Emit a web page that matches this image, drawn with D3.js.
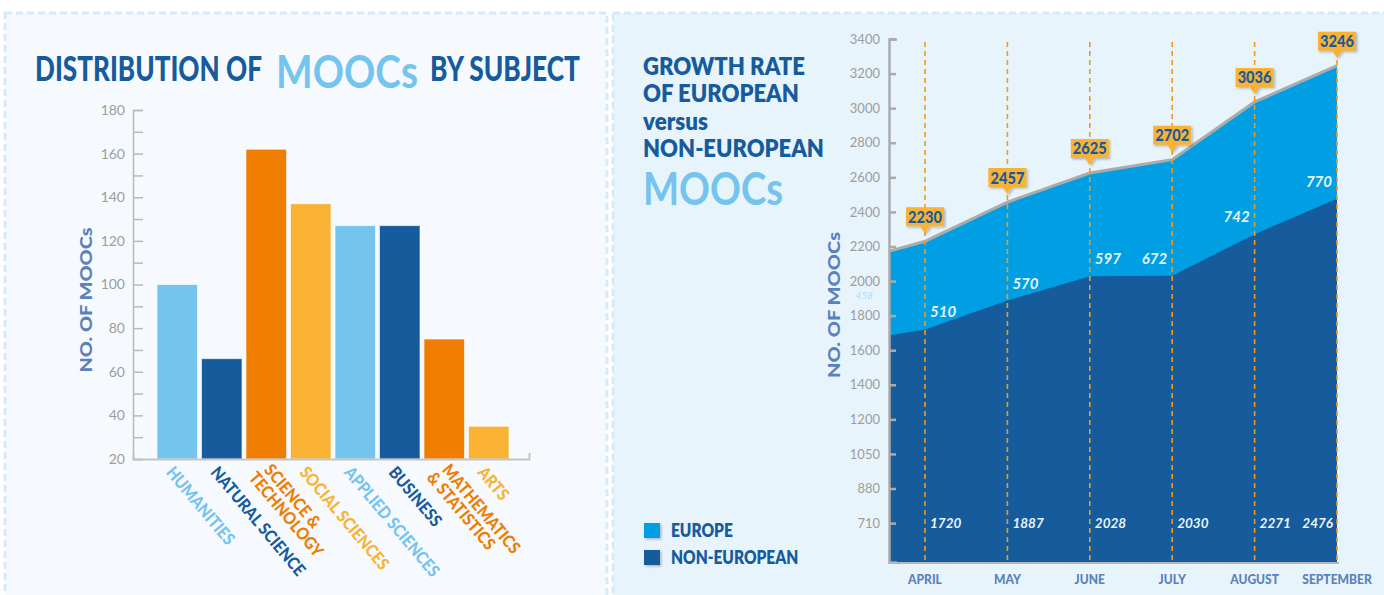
<!DOCTYPE html>
<html>
<head>
<meta charset="utf-8">
<script src="https://cdn.jsdelivr.net/npm/d3@7"></script>
<style>
  body { margin: 0; background: #fff; }
  text { font-family: Lato, "Open Sans", sans-serif; }
</style>
</head>
<body>
<svg id="chart" width="1384" height="595"></svg>
<script>
// ---- left chart: distribution by subject
const subjects = ["HUMANITIES", "NATURAL SCIENCE", "SCIENCE &\nTECHNOLOGY", "SOCIAL SCIENCES",
  "APPLIED SCIENCES", "BUSINESS", "MATHEMATICS\n& STATISTICS", "ARTS"];
const subjectCounts = [100, 66, 162, 137, 127, 127, 75, 35];

// ---- right chart: growth rate (first point is the clipped lead-in before April)
const months = ["MARCH", "APRIL", "MAY", "JUNE", "JULY", "AUGUST", "SEPTEMBER"];
const nonEuropean = [1640, 1720, 1887, 2028, 2030, 2271, 2476];
const european = [458, 510, 570, 597, 672, 742, 770];
const totals = [2098, 2230, 2457, 2625, 2702, 3036, 3246];
const growthTickValues = [3400, 3200, 3000, 2800, 2600, 2400, 2200, 2000, 1800, 1600, 1400, 1200, 1000, 800, 600];
const growthTickLabels = ["3400", "3200", "3000", "2800", "2600", "2400", "2200", "2000", "1800", "1600", "1400", "1200", "1050", "880", "710"];

const darkBlue = "#165b9c", lightBlue = "#74c4ee", orange = "#ee7d00", amber = "#f9b234";
const brightBlue = "#009fe3", axisBlue = "#5b81b9", tickGrey = "#9d9d9d";
const subjectColors = [lightBlue, darkBlue, orange, amber, lightBlue, darkBlue, orange, amber];

const svg = d3.select("#chart");
const defs = svg.append("defs");
defs.append("filter").attr("id", "shadow").attr("x", "-30%").attr("y", "-30%").attr("width", "160%").attr("height", "160%")
  .append("feDropShadow").attr("dx", 1.5).attr("dy", 1.5).attr("stdDeviation", 1.2).attr("flood-color", "#000").attr("flood-opacity", 0.25);
defs.append("clipPath").attr("id", "plotclip")
  .append("rect").attr("x", 890).attr("y", 0).attr("width", 449).attr("height", 562);

function condense(sel, k) {
  sel.each(function() {
    const w = this.getComputedTextLength();
    d3.select(this).attr("textLength", w * k).attr("lengthAdjust", "spacingAndGlyphs");
  });
}

// squeeze a text horizontally so it spans exactly `w` pixels
function fitWidth(sel, x0, y0, w) {
  sel.attr("x", 0).attr("y", 0);
  const nat = sel.node().getComputedTextLength();
  sel.attr("transform", `translate(${x0},${y0}) scale(${w / nat},1)`);
}

// panels
svg.append("rect").attr("x", 5).attr("y", 13).attr("width", 602).attr("height", 600)
  .attr("fill", "#f6fafe").attr("stroke", "#d5ebfa").attr("stroke-width", 3).attr("stroke-dasharray", "7,4");
svg.append("rect").attr("x", 613).attr("y", 13).attr("width", 790).attr("height", 600)
  .attr("fill", "#e7f4fc").attr("stroke", "#d5ebfa").attr("stroke-width", 3).attr("stroke-dasharray", "7,4");

// ================= LEFT CHART =================
const title = svg.append("g");
fitWidth(title.append("text").attr("font-size", 34).attr("font-weight", 900).attr("fill", darkBlue)
  .text("DISTRIBUTION OF"), 35, 81, 227);
fitWidth(title.append("text").attr("font-size", 45).attr("font-weight", 700).attr("fill", lightBlue)
  .text("MOOCs"), 276, 88, 142);
fitWidth(title.append("text").attr("font-size", 34).attr("font-weight", 900).attr("fill", darkBlue)
  .text("BY SUBJECT"), 430, 81, 150);

const x = d3.scaleBand().domain(d3.range(subjects.length)).range([157, 509]).paddingInner(0.09);
const y = d3.scaleLinear().domain([20, 180]).range([459, 110]);

svg.append("g").selectAll("rect").data(subjectCounts).join("rect")
  .attr("x", (d, i) => x(i)).attr("width", x.bandwidth())
  .attr("y", d => y(d)).attr("height", d => y(20) - y(d))
  .attr("fill", (d, i) => subjectColors[i])
  .attr("stroke", "#ffffff").attr("stroke-opacity", 0.6).attr("stroke-width", 1);

const yAxisL = svg.append("g").attr("transform", "translate(133,0)")
  .call(d3.axisLeft(y).tickValues(d3.range(20, 181, 10)).tickSize(-10).tickSizeOuter(-10).tickPadding(8)
    .tickFormat(d => d % 20 === 0 ? d : ""));
yAxisL.selectAll("path, line").attr("stroke", "#b9b9b9").attr("stroke-width", 1.5);
yAxisL.selectAll("text").attr("fill", tickGrey).attr("font-size", 14).attr("font-family", "Lato");

const xAxisL = svg.append("g").attr("transform", "translate(0,459)")
  .call(d3.axisBottom(d3.scaleLinear().range([133, 529])).ticks(0).tickSizeOuter(-6));
xAxisL.select("path").attr("stroke", "#c4c4c4").attr("stroke-width", 2);

svg.append("text").attr("transform", "translate(92,300) rotate(-90)")
  .attr("text-anchor", "middle").attr("font-size", 17).attr("font-weight", 900).attr("fill", axisBlue)
  .attr("textLength", 145).attr("lengthAdjust", "spacingAndGlyphs").text("NO. OF MOOCs");

const xLabels = svg.append("g").selectAll("text").data(subjects).join("text")
  .attr("transform", (d, i) => `translate(${x(i) + x.bandwidth() / 2 - 3},465) rotate(50)`)
  .attr("font-size", 17).attr("font-weight", 900).attr("fill", (d, i) => subjectColors[i]);
xLabels.each(function(d) {
  const lines = d.split("\n");
  const t = d3.select(this);
  lines.forEach((line, j) => {
    t.append("tspan").attr("x", j === 0 ? 4 * (lines.length - 1) : 0)
      .attr("dy", j === 0 ? (0.7 - 0.5 * (lines.length - 1)) + "em" : "0.98em").text(line);
  });
});
condense(xLabels.selectAll("tspan"), 0.9);

// ================= RIGHT CHART =================
const rTitle = [
  { t: "GROWTH RATE", y: 75, w: 162 },
  { t: "OF EUROPEAN", y: 102, w: 156 },
  { t: "versus", y: 130, w: 65 },
  { t: "NON-EUROPEAN", y: 157, w: 181 }
];
svg.append("g").selectAll("text").data(rTitle).join("text")
  .attr("font-size", 25).attr("font-weight", 800).attr("fill", darkBlue).text(d => d.t)
  .each(function(d) { fitWidth(d3.select(this), 643, d.y, d.w); });
fitWidth(svg.append("text").attr("font-size", 45).attr("font-weight", 700).attr("fill", lightBlue)
  .text("MOOCs"), 643, 205, 140);

const xR = d3.scaleLinear().domain([1, 6]).range([925, 1337]);
const yR = d3.scaleLinear().domain([375, 3400]).range([562, 39]);

const plot = svg.append("g").attr("clip-path", "url(#plotclip)");
plot.append("path").datum(totals)
  .attr("fill", brightBlue)
  .attr("d", d3.area().x((d, i) => xR(i)).y0(yR(375)).y1(d => yR(d)));
plot.append("path").datum(nonEuropean)
  .attr("fill", darkBlue)
  .attr("d", d3.area().x((d, i) => xR(i)).y0(yR(375)).y1(d => yR(d)));
plot.append("path").datum(totals)
  .attr("fill", "none").attr("stroke", "#ababab").attr("stroke-width", 3)
  .attr("d", d3.line().x((d, i) => xR(i)).y(d => yR(d)));

// dashed month guides
svg.append("g").selectAll("line").data(months.slice(1)).join("line")
  .attr("x1", (d, i) => xR(i + 1)).attr("x2", (d, i) => xR(i + 1))
  .attr("y1", 42).attr("y2", 562)
  .attr("stroke", "#f39a1e").attr("stroke-width", 1.6).attr("stroke-dasharray", "5,4");

const yAxisR = svg.append("g").attr("transform", "translate(889,0)")
  .call(d3.axisLeft(yR).tickValues(growthTickValues).tickSize(-7).tickSizeOuter(-8).tickPadding(9)
    .tickFormat((d, i) => growthTickLabels[i]));
yAxisR.selectAll("path, line").attr("stroke", "#ababab").attr("stroke-width", 2.5);
yAxisR.selectAll("text").attr("fill", tickGrey).attr("font-size", 13).attr("font-family", "Lato");

svg.append("line").attr("x1", 888).attr("x2", 1339).attr("y1", 563).attr("y2", 563)
  .attr("stroke", "#b5b5b5").attr("stroke-width", 2);

svg.append("text").attr("transform", "translate(840,305) rotate(-90)")
  .attr("text-anchor", "middle").attr("font-size", 17).attr("font-weight", 900).attr("fill", axisBlue)
  .attr("textLength", 146).attr("lengthAdjust", "spacingAndGlyphs").text("NO. OF MOOCs");

// month labels
const mLabels = svg.append("g").selectAll("text").data(months.slice(1)).join("text")
  .attr("x", (d, i) => xR(i + 1)).attr("y", 584).attr("text-anchor", "middle")
  .attr("font-size", 14).attr("font-weight", 900).attr("fill", axisBlue).text(d => d);
condense(mLabels, 0.86);

// lead-in (march) europe label, faded behind the axis
svg.append("text").attr("x", xR(0) + 13).attr("y", 299).attr("font-size", 10).attr("font-style", "italic")
  .attr("font-weight", 700).attr("fill", "#a9d7f3").attr("opacity", 0.7).text(european[0]);

// europe labels
svg.append("g").selectAll("text").data(european.slice(1)).join("text")
  .attr("x", (d, i) => i < 3 ? xR(i + 1) + 5 : xR(i + 1) - 5)
  .attr("y", (d, i) => yR(nonEuropean[i + 1]) - 12)
  .attr("text-anchor", (d, i) => i < 3 ? "start" : "end")
  .attr("font-size", 15).attr("font-weight", 700).attr("font-style", "italic").attr("fill", "#e6f4fd").text(d => d);

// non-european labels near the bottom
svg.append("g").selectAll("text").data(nonEuropean.slice(1)).join("text")
  .attr("x", (d, i) => i < 5 ? xR(i + 1) + 5 : xR(i + 1) - 4)
  .attr("y", 528)
  .attr("text-anchor", (d, i) => i < 5 ? "start" : "end")
  .attr("font-size", 13.5).attr("font-weight", 700).attr("font-style", "italic").attr("fill", "#e6f4fd").text(d => d);

// total callouts
const callouts = svg.append("g").selectAll("g").data(totals.slice(1)).join("g")
  .attr("transform", (d, i) => `translate(${xR(i + 1)},${yR(d)})`);
callouts.append("path").attr("d", "M-19,-34H19V-15H5L0,-8L-5,-15H-19Z")
  .attr("fill", amber).attr("filter", "url(#shadow)");
const cText = callouts.append("text").attr("y", -18.5).attr("text-anchor", "middle")
  .attr("font-size", 17).attr("font-weight", 900).attr("fill", darkBlue).text(d => d);
condense(cText, 0.86);

// legend
const legend = svg.append("g").selectAll("g").data([["EUROPE", brightBlue], ["NON-EUROPEAN", darkBlue]]).join("g")
  .attr("transform", (d, i) => `translate(644,${523 + i * 27})`);
legend.append("rect").attr("width", 16).attr("height", 15).attr("fill", d => d[1]).attr("filter", "url(#shadow)");
const legText = legend.append("text").attr("x", 27).attr("y", 13.5).attr("font-size", 18).attr("font-weight", 800)
  .attr("fill", darkBlue).text(d => d[0]);
condense(legText, 0.86);
</script>
</body>
</html>
